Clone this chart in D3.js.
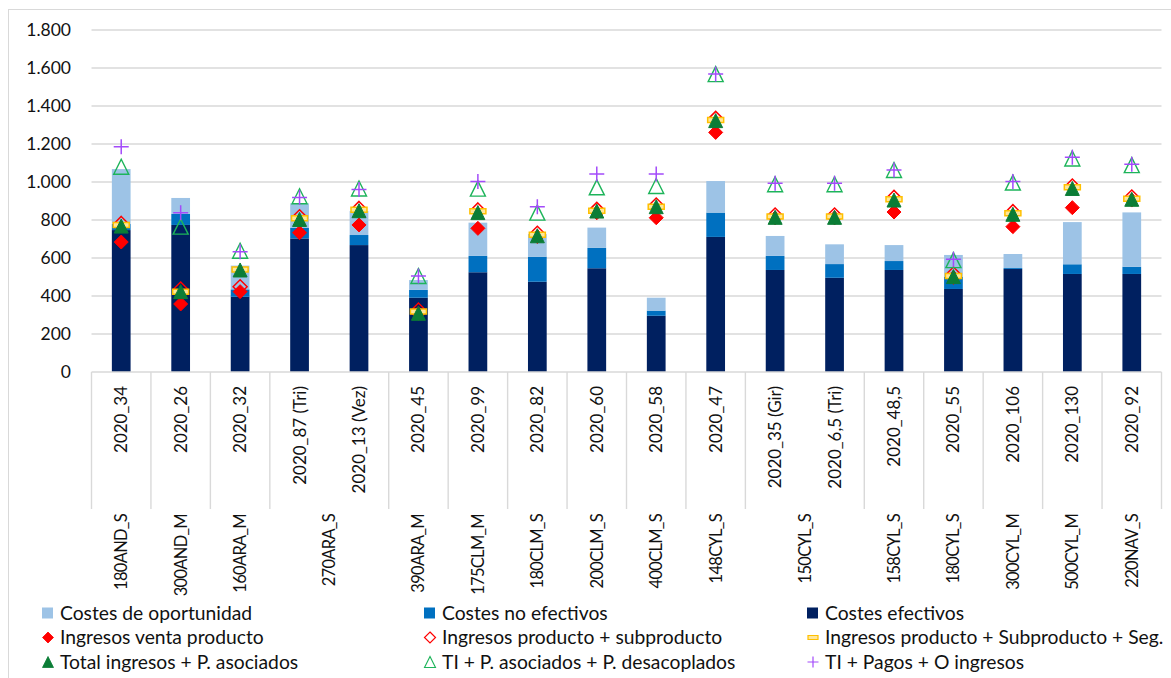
<!DOCTYPE html>
<html>
<head>
<meta charset="utf-8">
<script src="https://cdn.jsdelivr.net/npm/d3@7"></script>
<style>
  html, body { margin: 0; padding: 0; background: #fff; }
  svg { display: block; font-family: Lato, "Open Sans", sans-serif; }
</style>
</head>
<body>
<svg id="chart" width="1171" height="678"></svg>
<script>
// ---------- data ----------
const innerLabels = ["2020_34","2020_26","2020_32","2020_87 (Tri)","2020_13 (Vez)","2020_45","2020_99","2020_82","2020_60","2020_58","2020_47","2020_35 (Gir)","2020_6,5 (Tri)","2020_48,5","2020_55","2020_106","2020_130","2020_92"];
const outerLabels = ["180AND_S","300AND_M","160ARA_M","270ARA_S","270ARA_S","390ARA_M","175CLM_M","180CLM_S","200CLM_S","400CLM_S","148CYL_S","150CYL_S","150CYL_S","158CYL_S","180CYL_S","300CYL_M","500CYL_M","220NAV_S"];

const costesEfectivos   = [747,774,396,703,668,391,525,475,546,296,711,537,496,537,437,542,516,516];
const costesNoEfectivos = [32,58,39,55,53,41,86,132,107,27,128,74,72,47,65,5,51,38];
const costesOportunidad = [289,84,125,130,126,52,175,119,107,68,166,105,104,84,114,74,222,286];

const ingresosVenta      = [684,358,423,733,774,309,756,713,838,812,1261,811,811,842,498,765,865,905];
const ingresosProdSub    = [782,437,449,817,861,326,853,730,856,879,1335,826,826,919,516,844,979,921];
const ingresosProdSubSeg = [774,423,540,809,854,318,846,723,849,870,1326,819,819,909,505,835,972,912];
const totalAsociados     = [768,423,537,803,849,309,839,717,847,870,1323,814,814,905,502,830,966,909];
const tiDesacoplados     = [1080,765,638,925,966,505,965,839,972,979,1568,988,988,1063,589,997,1124,1089];
const tiPagosOtros       = [1186,838,633,919,961,505,1002,870,1042,1042,1568,993,993,1063,593,1002,1130,1093];

const yTicks = [0,200,400,600,800,1000,1200,1400,1600,1800];

// ---------- layout ----------
const svg = d3.select("#chart");
const plotL = 91.5, plotR = 1161.5, plotT = 30, plotB = 372;
const fontCol = "#111";

// chart border
svg.append("rect").attr("x",8.5).attr("y",9.5).attr("width",1200).attr("height",700)
  .attr("fill","none").attr("stroke","#d9d9d9").attr("stroke-width",1);

const x = d3.scaleBand().domain(d3.range(innerLabels.length)).range([plotL, plotR]).padding(0);
const y = d3.scaleLinear().domain([0,1800]).range([plotB, plotT]);
const fmt = v => d3.format(",")(v).replace(/,/g, ".");

// gridlines
svg.append("g").selectAll("line").data(yTicks.filter(d=>d>0)).join("line")
  .attr("x1",plotL).attr("x2",plotR)
  .attr("y1",d=>y(d)).attr("y2",d=>y(d))
  .attr("stroke","#d9d9d9").attr("stroke-width",1.4);

// y-axis labels
const yAxis = d3.axisLeft(y).tickValues(yTicks).tickFormat(fmt).tickSize(0).tickPadding(0);
const yg = svg.append("g").attr("transform",`translate(71,0)`).call(yAxis);
yg.select(".domain").remove();
yg.selectAll("text").attr("font-size",17.5).attr("fill",fontCol).attr("font-family","Lato, sans-serif");

// stacked bars
const stackSeries = [
  {name:"Costes efectivos", vals:costesEfectivos, color:"#002060"},
  {name:"Costes no efectivos", vals:costesNoEfectivos, color:"#0070C0"},
  {name:"Costes de oportunidad", vals:costesOportunidad, color:"#9DC3E6"}
];
const stackData = innerLabels.map((_,i)=>{ const o={i}; stackSeries.forEach((s,k)=>o["s"+k]=s.vals[i]); return o; });
const stacked = d3.stack().keys(stackSeries.map((_,k)=>"s"+k))(stackData);
const barW = x.bandwidth()*0.315;
stacked.forEach((layer,k)=>{
  svg.append("g").selectAll("rect").data(layer).join("rect")
    .attr("x",d=>x(d.data.i)+x.bandwidth()/2-barW/2)
    .attr("width",barW)
    .attr("y",d=>y(d[1]))
    .attr("height",d=>y(d[0])-y(d[1]))
    .attr("fill",stackSeries[k].color);
});

// x axis line
svg.append("line").attr("x1",plotL).attr("x2",plotR).attr("y1",plotB).attr("y2",plotB)
  .attr("stroke","#d9d9d9").attr("stroke-width",1.4);

// group separators (boundaries between outer groups)
const bounds = [0];
for (let i=1;i<outerLabels.length;i++) if (outerLabels[i]!==outerLabels[i-1]) bounds.push(i);
bounds.push(outerLabels.length);
const sepX = b => b===outerLabels.length ? plotR : x(b);
svg.append("g").selectAll("line").data(bounds).join("line")
  .attr("x1",d=>sepX(d)).attr("x2",d=>sepX(d))
  .attr("y1",plotB).attr("y2",509)
  .attr("stroke","#d9d9d9").attr("stroke-width",1.4);

// inner labels
svg.append("g").selectAll("text").data(innerLabels).join("text")
  .attr("transform",(d,i)=>`translate(${x(i)+x.bandwidth()/2+6},386) rotate(-90)`)
  .attr("text-anchor","end").attr("font-size",17).attr("fill",fontCol).text(d=>d);

// outer labels
const groups = [];
for (let g=0; g<bounds.length-1; g++) groups.push({name:outerLabels[bounds[g]], a:bounds[g], b:bounds[g+1]});
svg.append("g").selectAll("text").data(groups).join("text")
  .attr("transform",d=>`translate(${(sepX(d.a)+sepX(d.b))/2+6},514) rotate(-90)`)
  .attr("text-anchor","end").attr("font-size",16.5).attr("letter-spacing","-0.7px")
  .attr("fill",fontCol).text(d=>d.name);

// marker shapes
const shapes = {
  diamond: s => `M0,${-s/2}L${s/2},0L0,${s/2}L${-s/2},0Z`,
  tri: s => `M0,${-s/2}L${s/2},${s/2}L${-s/2},${s/2}Z`,
  plus: s => `M${-s/2},0H${s/2}M0,${-s/2}V${s/2}`,
  dash: s => `M${-s/2},-2.5H${s/2}V2.5H${-s/2}Z`
};
const markerSeries = [
  {name:"Ingresos venta producto", vals:ingresosVenta, shape:"diamond", size:14, fill:"#FF0000", stroke:"#FF0000", sw:1},
  {name:"Ingresos producto + subproducto", vals:ingresosProdSub, shape:"diamond", size:14, fill:"none", stroke:"#FF0000", sw:1.5},
  {name:"Ingresos producto + Subproducto + Seg.", vals:ingresosProdSubSeg, shape:"dash", size:16, fill:"#FFE699", stroke:"#FFC000", sw:1.5},
  {name:"Total ingresos + P. asociados", vals:totalAsociados, shape:"tri", size:14, fill:"#0B7D36", stroke:"#0B7D36", sw:1},
  {name:"TI + P. asociados + P. desacoplados", vals:tiDesacoplados, shape:"tri", size:15, fill:"none", stroke:"#1DB45A", sw:1.4},
  {name:"TI + Pagos + O ingresos", vals:tiPagosOtros, shape:"plus", size:15, fill:"none", stroke:"#A34BFA", sw:1.5}
];
markerSeries.forEach(s=>{
  svg.append("g").selectAll("path").data(s.vals).join("path")
    .attr("transform",(d,i)=>`translate(${x(i)+x.bandwidth()/2},${y(d)})`)
    .attr("d",shapes[s.shape](s.size))
    .attr("fill",s.fill).attr("stroke",s.stroke).attr("stroke-width",s.sw);
});

// legend
const colX = [42, 424, 807];
const rowY = [613, 637.5, 662];
const legendItems = [
  {t:"bar", c:stackSeries[2].color, name:stackSeries[2].name},
  {t:"bar", c:stackSeries[1].color, name:stackSeries[1].name},
  {t:"bar", c:stackSeries[0].color, name:stackSeries[0].name},
  ...markerSeries.map(s=>({t:"m", s, name:s.name}))
];
legendItems.forEach((it,k)=>{
  const cx = colX[k%3], cy = rowY[Math.floor(k/3)];
  const g = svg.append("g").attr("transform",`translate(${cx},${cy})`);
  if (it.t==="bar") {
    g.append("rect").attr("x",0).attr("y",-5.5).attr("width",11).attr("height",11).attr("fill",it.c);
  } else {
    const s = it.s;
    let d = shapes[s.shape](11);
    if (s.shape==="dash") d = `M${-5},-2H${5}V2H${-5}Z`;
    g.append("path").attr("transform","translate(6,0)").attr("d",d)
      .attr("fill",s.fill).attr("stroke",s.stroke).attr("stroke-width",s.sw*0.8);
  }
  g.append("text").attr("x",18).attr("y",0).attr("dy","0.35em")
    .attr("font-size",19.3).attr("fill",fontCol).text(it.name);
});
</script>
</body>
</html>
